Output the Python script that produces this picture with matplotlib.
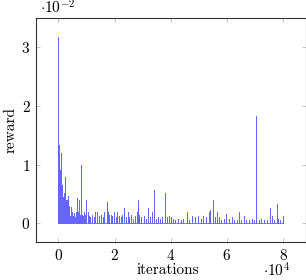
import matplotlib
matplotlib.use("Agg")
import matplotlib.pyplot as plt
from matplotlib.ticker import FuncFormatter

plt.rcParams['font.family'] = 'cmr10'
plt.rcParams['mathtext.fontset'] = 'cm'
plt.rcParams['axes.formatter.use_mathtext'] = True
plt.rcParams['font.size'] = 11

# spikes: iteration, reward (in units of 1e-2)
spike_iter = [0, 150, 250, 400, 550, 700, 820, 950, 1050, 1180, 1300, 1450, 1600, 1750,
              1890, 2050, 2240, 2400, 2600, 2800, 3000, 3150, 3300, 3500, 3700, 3900,
              4100, 4300, 4500, 4700, 5000, 5300, 5600, 5900, 6200, 6500, 6760, 7000,
              7250, 7470, 7700, 7940, 8200, 8500, 8800, 9200, 9600, 9960, 10400, 10800,
              11300, 11800, 12500, 13000, 13700, 14300, 15000, 15700, 16400, 17200,
              17600, 18000, 18700, 19200, 19800, 20500, 21000, 21500, 22200, 22800,
              23400, 24000, 24600, 25200, 25900, 26500, 27200, 27800, 28200, 28800,
              29500, 30400, 31200, 32000, 32600, 33300, 33900, 34600, 35300, 36000,
              36900, 37800, 38500, 39300, 40000, 40800, 41600, 42600, 43500, 44500,
              45800, 46500, 47700, 48800, 49800, 50600, 51600, 52500, 53500, 54100,
              55100, 55700, 56300, 57200, 57900, 59000, 59800, 60600, 61700, 62500,
              63500, 64300, 65200, 66200, 66900, 67800, 68800, 69500, 70400, 71300,
              72200, 73300, 74300, 75500, 75900, 76800, 77800, 78300, 79000, 80000]
spike_reward = [3.17, 1.33, 0.7, 0.55, 0.38, 0.9, 1.2, 0.5, 0.35, 0.65, 0.3, 0.45, 0.25, 0.32,
                0.52, 0.2, 0.78, 0.3, 0.4, 0.18, 0.4, 0.25, 0.47, 0.15, 0.22, 0.3,
                0.12, 0.2, 0.27, 0.15, 0.2, 0.12, 0.18, 0.1, 0.2, 0.15, 0.43, 0.2,
                0.15, 0.40, 0.15, 1.0, 0.18, 0.15, 0.12, 0.2, 0.15, 0.39, 0.2, 0.12,
                0.1, 0.15, 0.1, 0.2, 0.2, 0.12, 0.15, 0.1, 0.2, 0.36,
                0.2, 0.15, 0.15, 0.12, 0.2, 0.1, 0.2, 0.12, 0.1, 0.15,
                0.26, 0.1, 0.2, 0.1, 0.15, 0.08, 0.12, 0.2, 0.4, 0.15,
                0.1, 0.12, 0.08, 0.26, 0.1, 0.2, 0.57, 0.08, 0.1, 0.08,
                0.1, 0.52, 0.1, 0.13, 0.1, 0.08, 0.06, 0.08, 0.05, 0.08,
                0.2, 0.06, 0.13, 0.1, 0.12, 0.08, 0.13, 0.1, 0.2, 0.22,
                0.39, 0.1, 0.2, 0.1, 0.06, 0.08, 0.16, 0.08, 0.1, 0.05,
                0.06, 0.2, 0.06, 0.13, 0.06, 0.06, 0.08, 0.06, 1.82, 0.06,
                0.08, 0.05, 0.06, 0.26, 0.12, 0.06, 0.33, 0.08, 0.06, 0.13]

x_ticks = [0, 20000, 40000, 60000, 80000]
y_ticks = [0, 0.01, 0.02, 0.03]

# each spike goes up from zero and back down
xs, ys = [], []
for it, r in zip(spike_iter, spike_reward):
    xs += [it, it, it]
    ys += [0, r * 1e-2, 0]

fig = plt.figure(figsize=(3.06, 2.80), dpi=100)
ax = fig.add_axes([36 / 306, 38 / 280, 269.5 / 306, 224 / 280])
ax.plot(xs, ys, color='blue', lw=0.6, alpha=0.6)

ax.set_xlim(-8000, 88000)
ax.set_ylim(-0.00317, 0.0349)
ax.set_xticks(x_ticks)
ax.set_yticks(y_ticks)
ax.xaxis.set_major_formatter(FuncFormatter(lambda v, p: '$%d$' % round(v / 1e4)))
ax.yaxis.set_major_formatter(FuncFormatter(lambda v, p: '$%d$' % round(v / 1e-2)))
ax.tick_params(direction='in', length=3, width=0.5, color='#aaaaaa',
               top=True, right=True, labelsize=11)
ax.tick_params(axis='x', pad=4)
ax.tick_params(axis='y', pad=4)
for s in ax.spines.values():
    s.set_linewidth(0.8)
    s.set_color('#333333')

fig.text(168 / 306, 1 - 270 / 280, 'iterations', ha='center', va='center', fontsize=11)
fig.text(11 / 306, 1 - 130 / 280, 'reward', ha='center', va='center', fontsize=11,
         rotation=90)
fig.text(58 / 306, 1 - 8 / 280, r'$\cdot 10^{-2}$', ha='center', va='center', fontsize=11)
fig.text(277 / 306, 1 - 271 / 280, r'$\cdot 10^{4}$', ha='center', va='center', fontsize=11)

fig.savefig('out.png', dpi=100)
